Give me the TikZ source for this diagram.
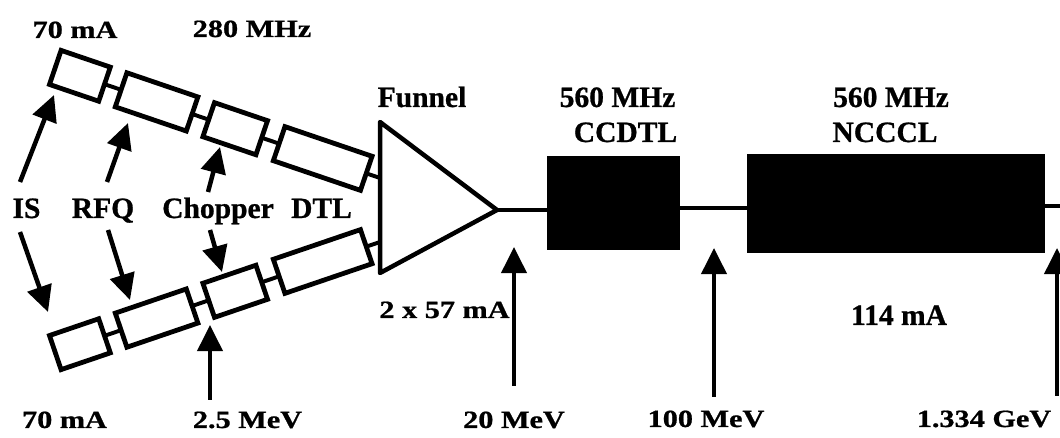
\documentclass[tikz,border=0pt]{standalone}
\usepackage{graphicx}
\usepackage{fontspec}
\newfontfamily\labA{Liberation Serif}[BoldFeatures={FakeBold=0.8}]
\newcommand\squash[1]{\scalebox{1}[0.82]{#1}}
\usetikzlibrary{arrows.meta}
\begin{document}
\begin{tikzpicture}[x=0.025cm,y=-0.025cm,
  cav/.style={draw, line width=3.4pt, minimum height=0.9cm, inner sep=0pt, outer sep=0pt},
  blk/.style={fill=black, draw=black, inner sep=0pt, outer sep=0pt},
  beam/.style={line width=2.8pt},
  ptr/.style={line width=3.2pt, -{Triangle[length=0.65cm,width=0.62cm]}},
  tA/.style={anchor=base, inner sep=0pt, font=\labA\bfseries\fontsize{21}{23}\selectfont},
  tB/.style={anchor=base, inner sep=0pt, font=\labA\bfseries\fontsize{21.5}{23}\selectfont},
]
\useasboundingbox (0,0) rectangle (1060,438);

% upper branch
\node[cav, minimum width=1.3cm,   rotate=-18.8] (u1) at (79.9,75.8) {};
\node[cav, minimum width=1.875cm, rotate=-18.8] (u2) at (156.6,101.9) {};
\node[cav, minimum width=1.4cm,   rotate=-18.8] (u3) at (235.2,128.7) {};
\node[cav, minimum width=2.3cm,   rotate=-18.8] (u4) at (322.7,158.5) {};
% lower branch
\node[cav, minimum width=1.3cm,   rotate=18.8] (l1) at (79.9,344.2) {};
\node[cav, minimum width=1.875cm, rotate=18.8] (l2) at (156.6,318.1) {};
\node[cav, minimum width=1.4cm,   rotate=18.8] (l3) at (235.2,291.3) {};
\node[cav, minimum width=2.3cm,   rotate=18.8] (l4) at (322.7,261.5) {};

% funnel
\coordinate (ft) at (380,122);
\coordinate (fb) at (380,273);
\coordinate (tip) at (497,210);
\coordinate (fu) at (380,178);
\coordinate (fl) at (380,242);
\draw[line width=3.2pt, line join=round] (ft) -- (tip) -- (fb) -- cycle;

\draw[beam] (u1.east) -- (u2.west);
\draw[beam] (u2.east) -- (u3.west);
\draw[beam] (u3.east) -- (u4.west);
\draw[beam] (u4.east) -- (fu);
\draw[beam] (l1.east) -- (l2.west);
\draw[beam] (l2.east) -- (l3.west);
\draw[beam] (l3.east) -- (l4.west);
\draw[beam] (l4.east) -- (fl);

% linac blocks
\node[blk, minimum width=3.3cm, minimum height=2.325cm] (ccdtl) at (613,202.5) {};
\node[blk, minimum width=7.425cm, minimum height=2.45cm] (ncccl) at (895.5,203) {};
\coordinate (b1) at (700,208);
\coordinate (bend) at (1062,206);
\draw[beam] (tip) -- (tip -| ccdtl.west);
\draw[beam] (ccdtl.east |- b1) -- (ncccl.west |- b1);
\draw[beam] (ncccl.east |- bend) -- (bend);

% vertical arrows
\coordinate (a25t) at (210,400);  \coordinate (a25h) at (210,325);
\coordinate (a20t) at (514,386);  \coordinate (a20h) at (514,247);
\coordinate (a100t) at (714,397); \coordinate (a100h) at (714,248);
\coordinate (aGt) at (1057,396);  \coordinate (aGh) at (1057,248);
\draw[ptr] (a25t) -- (a25h);
\draw[ptr] (a20t) -- (a20h);
\draw[ptr] (a100t) -- (a100h);
\draw[ptr] (aGt) -- (aGh);

% slanted arrows
\coordinate (isut) at (20,182);  \coordinate (isuh) at (54,95);
\coordinate (rfut) at (107,182); \coordinate (rfuh) at (128,123);
\coordinate (chut) at (208,192); \coordinate (chuh) at (220,147);
\coordinate (islt) at (20,232);  \coordinate (islh) at (48,312);
\coordinate (rflt) at (108,230); \coordinate (rflh) at (130,300);
\coordinate (chlt) at (210,230); \coordinate (chlh) at (222,272);
\draw[ptr] (isut) -- (isuh);
\draw[ptr] (rfut) -- (rfuh);
\draw[ptr] (chut) -- (chuh);
\draw[ptr] (islt) -- (islh);
\draw[ptr] (rflt) -- (rflh);
\draw[ptr] (chlt) -- (chlh);

% labels
\node[tB] (t70u) at (75,38) {\squash{70 mA}};
\node[tB] (t280) at (252,37) {\squash{280 MHz}};
\node[tA] (tIS) at (26.5,218) {IS};
\node[tA] (tRFQ) at (103,218) {RFQ};
\node[tA] (tCh) at (218,218) {Chopper};
\node[tA] (tDTL) at (321.5,218) {DTL};
\node[tA] (tFun) at (422,107) {Funnel};
\node[tA] (t560a) at (617.5,107) {560 MHz};
\node[tA] (tCCD) at (625.5,142) {CCDTL};
\node[tA] (t560b) at (891,107) {560 MHz};
\node[tA] (tNCC) at (885,142) {NCCCL};
\node[tA] (t114) at (899,325) {114 mA};
\node[tB] (t257) at (444.5,318) {\squash{2 x 57 mA}};
\node[tB] (t70l) at (64.5,428) {\squash{70 mA}};
\node[tB] (t25) at (247.5,428) {\squash{2.5 MeV}};
\node[tB] (t20) at (514,428) {\squash{20 MeV}};
\node[tB] (t100) at (706,427) {\squash{100 MeV}};
\node[tB] (tG) at (984,427) {\squash{1.334 GeV}};
\end{tikzpicture}
\end{document}
